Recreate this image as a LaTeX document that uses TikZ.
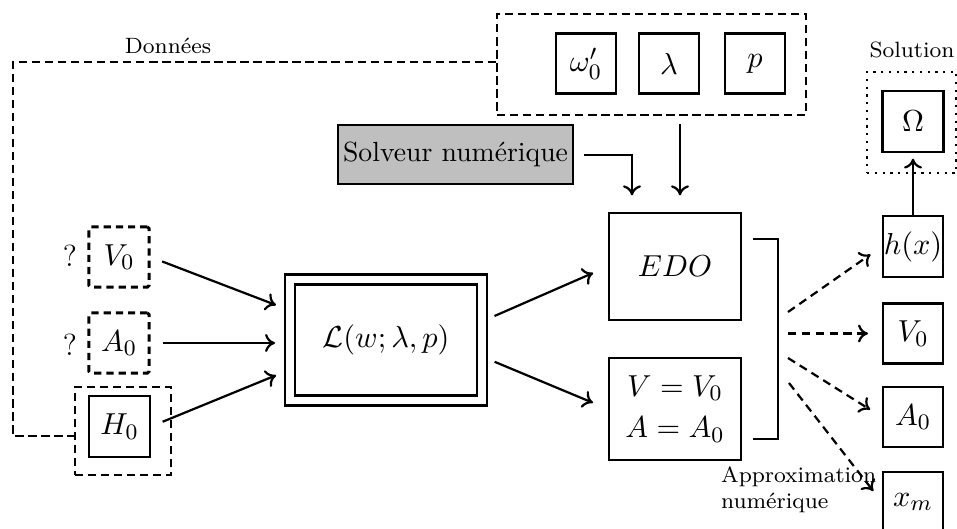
\documentclass[tikz,border=0pt]{standalone}
\usepackage{fontspec}
\usetikzlibrary{calc,arrows.meta}
\begin{document}
\begin{tikzpicture}[x=0.361pt,y=-0.361pt,line width=0.8pt,
  mathsize/.style={font=\fontsize{11}{13}\selectfont},
  sq/.style={draw,minimum width=21.7pt,minimum height=21.7pt,inner sep=0pt,mathsize},
  dsq/.style={sq,line width=1.05pt,rounded corners=0.6pt,dash pattern=on 2.6pt off 1.8pt},
  grp/.style={draw,line width=0.75pt,dash pattern=on 3pt off 1.7pt},
  note/.style={font=\footnotesize,inner sep=0pt},
  arr/.style={-{To[length=3.6pt,width=6.5pt]},shorten <=4.5pt,shorten >=5pt},
  darr/.style={arr,dash pattern=on 3pt off 2pt}]
\useasboundingbox (0,0) rectangle (957,529);

% parameters of the model
\node[grp,minimum width=111.5pt,minimum height=36.5pt] (par) at (651.5,64.5) {};
\node[sq] (om) at (586,63.5) {$\omega'_0$};
\node[sq] (la) at (669,63.5) {$\lambda$};
\node[sq] (pp) at (755,63.5) {$p$};

% numerical solver
\node[draw,fill=black!25,minimum width=84.8pt,minimum height=21.3pt,inner sep=1pt] (sol) at (455.5,154.5) {Solveur numérique};

% initial data
\node[dsq] (v0) at (119,257) {$V_0$};
\node[dsq] (a0) at (119,343) {$A_0$};
\node[sq,minimum width=22pt,minimum height=22pt] (h0) at (119.5,426.5) {$H_0$};
\node[grp,minimum width=34.7pt,minimum height=31.8pt] (hg) at (123,431) {};
\node[anchor=east,mathsize,inner sep=0pt] (q1) at (78,256) {?};
\node[anchor=east,mathsize,inner sep=0pt] (q2) at (78,345) {?};

% Lagrangian
\node[draw,double,double distance=2.8pt,minimum width=69.3pt,minimum height=43.7pt,mathsize] (L) at (386,340) {$\mathcal{L}(w;\lambda,p)$};

% ODE system and initial conditions
\node[draw,minimum width=47.7pt,minimum height=38.6pt,mathsize] (edo) at (675,266.5) {$EDO$};
\node[draw,minimum width=47.7pt,minimum height=36.8pt,mathsize,align=center] (eq) at (675,409) {$V=V_0$\\[2pt]$A=A_0$};

% outputs
\node[sq,minimum height=22pt] (hx) at (913,246.5) {$h(x)$};
\node[sq] (v0r) at (913,333.5) {$V_0$};
\node[sq] (a0r) at (913,417) {$A_0$};
\node[sq] (xm) at (913,502) {$x_m$};
\node[sq,minimum width=22pt,minimum height=22pt] (Om) at (913,121.5) {$\Omega$};
\node[draw,dotted,minimum width=32.3pt,minimum height=36.5pt] (solbox) at (911.75,122.5) {};

% labels
\node[note] (don) at (168,46) {Données};
\node[note] (soln) at (912,50) {Solution};
\node[note,anchor=west,align=left] (approx) at (720,490) {Approximation\\numérique};

% data link
\coordinate (dtop) at (13,62);
\coordinate (dbot) at (13,436);
\draw[grp] (par.west |- dtop) -- (dtop) -- (dbot) -- (hg.west |- dbot);

% inputs of the Lagrangian
\draw[arr] (v0.east) -- ($(L.west)+(0,-30)$);
\draw[arr] (a0.east) -- (L.west |- a0.east);
\draw[arr] (h0.east) -- ($(L.west)+(0,30)$);

% towards the ODE
\draw[arr,shorten >=5.8pt] ($(L.east)+(0,-19)$) -- (edo.west);
\draw[arr,shorten >=5.8pt] ($(L.east)+(0,17)$) -- (eq.west);

\coordinate (elbow) at (632,155);
\draw[arr,shorten >=6pt,shorten <=3.6pt] (sol.east |- elbow) -- (elbow) -- (elbow |- edo.north);
\draw[arr,shorten >=6pt,shorten <=3pt] (par.south -| 680,0) -- (680,0 |- edo.north);

% bracket gathering the system
\coordinate (b1) at (753,239);
\coordinate (b2) at (778,239);
\coordinate (b3) at (778,439);
\coordinate (b4) at (753,439);
\draw (b1) -- (b2) -- (b3) -- (b4);

% numerical approximation outputs
\coordinate (s1) at (788,312);
\coordinate (s2) at (788,333.5);
\coordinate (s3) at (788,358);
\coordinate (s4) at (789,383);
\draw[darr,shorten <=0pt] (s1) -- (hx.west);
\draw[darr,shorten <=0pt] (s2) -- (v0r.west);
\draw[darr,shorten <=0pt] (s3) -- (a0r.west);
\draw[darr,shorten <=0pt] (s4) -- (xm.west);

% solution
\draw[arr,shorten <=0pt,shorten >=2pt] (hx.north) -- (Om.south);
\end{tikzpicture}
\end{document}
